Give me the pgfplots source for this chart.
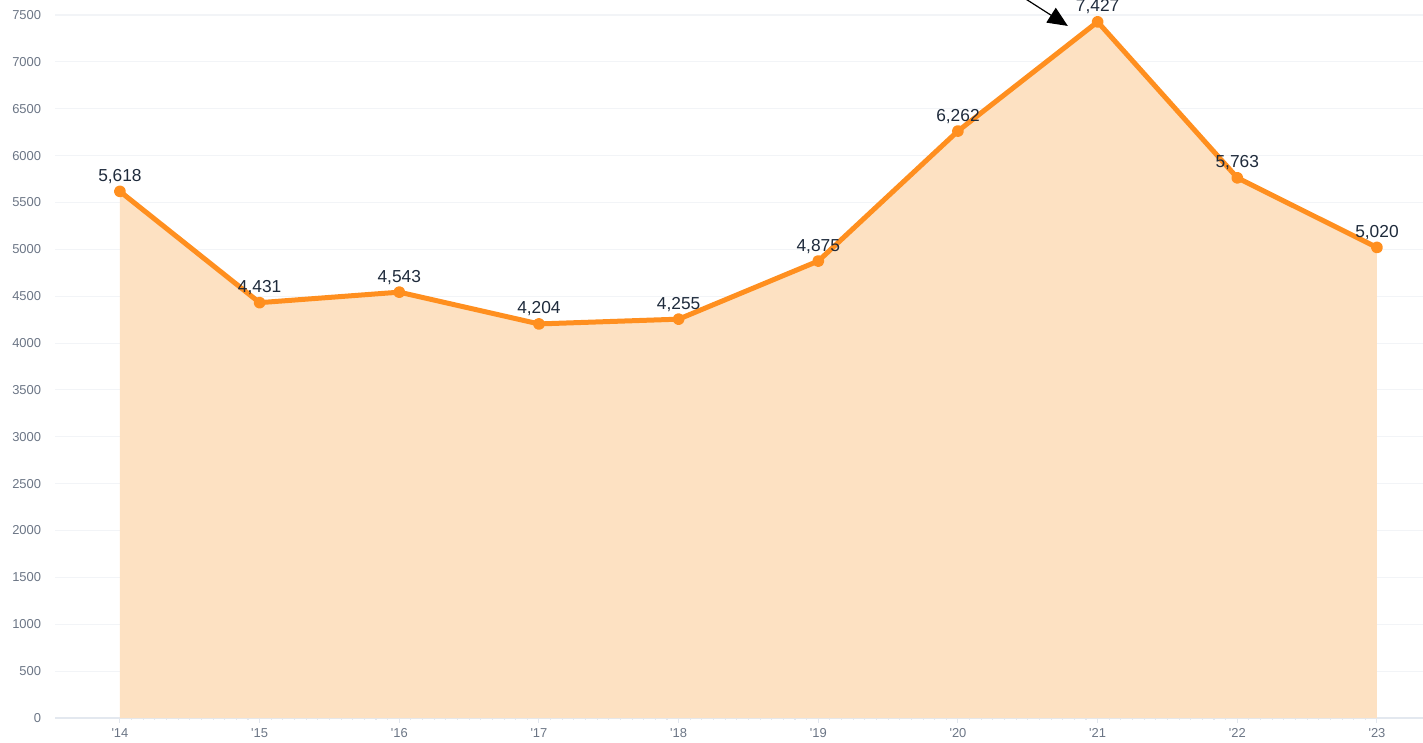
\documentclass[border=0pt]{standalone}
\usepackage{pgfplots}
\pgfplotsset{compat=1.18}
\usepackage{fontspec}
\setmainfont{Liberation Sans}[Ligatures=TeXOff]
\usetikzlibrary{arrows.meta}
\definecolor{lineor}{HTML}{FF8F1F}
\definecolor{fillor}{HTML}{FDE1C2}
\definecolor{ticklab}{HTML}{6B7585}
\definecolor{gridc}{HTML}{F2F4F7}
\definecolor{axisc}{HTML}{E3E8EF}
\definecolor{labc}{HTML}{1E2A3B}
\begin{document}
\begin{tikzpicture}
\useasboundingbox (0,0) rectangle (1067.25pt,556.5pt);
\begin{axis}[
  at={(41.25pt,18pt)}, anchor=south west,
  scale only axis, width=1026pt, height=538.5pt,
  xmin=13.535, xmax=23.33, ymin=0, ymax=7660,
  clip=false,
  axis lines*=left,
  y axis line style={draw=none},
  x axis line style={draw=axisc, line width=0.8pt},
  xtick={14,...,23},
  xticklabels={'14,'15,'16,'17,'18,'19,'20,'21,'22,'23},
  minor x tick num=11,
  tick align=outside,
  major tick length=3.5pt, minor tick length=1.2pt,
  x tick style={draw=axisc, line width=0.8pt},
  minor x tick style={draw=axisc, line width=0.8pt},
  ytick={0,500,...,7500},
  y tick style={draw=none},
  ymajorgrids, grid style={draw=gridc, line width=0.8pt},
  tick label style={font=\fontsize{9.7}{11}\selectfont, text=ticklab},
  yticklabel style={inner sep=0pt, anchor=east, xshift=-6.75pt, /pgf/number format/1000 sep={}, /pgf/number format/assume math mode=true},
  xticklabel style={inner sep=0pt, anchor=north, yshift=-4pt},
]
\addplot[fill=fillor, draw=none, forget plot] coordinates {
(14,5618) (15,4431) (16,4543) (17,4204) (18,4255) (19,4875) (20,6262) (21,7427) (22,5763) (23,5020)
} \closedcycle;
\addplot[color=lineor, line width=3.75pt, line join=round, mark=*, mark size=2.6pt, mark options={solid, fill=lineor, draw=none},
  nodes near coords={\pgfmathprintnumber[1000 sep={,},assume math mode=true]{\pgfplotspointmeta}},
  every node near coord/.style={anchor=base, inner sep=0pt, yshift=7.5pt, font=\fontsize{13}{15}\selectfont, text=labc}]
coordinates {
(14,5618) (15,4431) (16,4543) (17,4204) (18,4255) (19,4875) (20,6262) (21,7427) (22,5763) (23,5020)
};
\draw[black, line width=0.9pt, -{Triangle[length=15pt,width=13pt]}] (axis cs:20.30,7847) -- (axis cs:20.787,7383);
\end{axis}
\end{tikzpicture}
\end{document}
